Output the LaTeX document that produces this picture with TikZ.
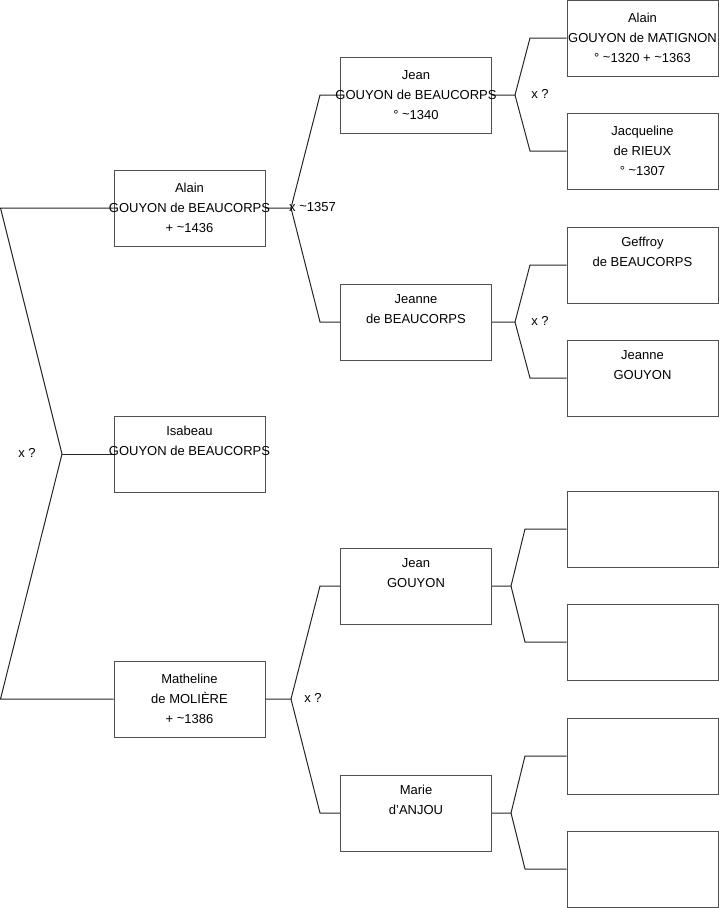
\documentclass[tikz,border=0pt]{standalone}
\usepackage{fontspec}
\setmainfont{Liberation Sans}
\definecolor{boxgray}{HTML}{505050}
\newcommand{\tl}{\raisebox{0.2ex}{\textasciitilde}}
\begin{document}
\begin{tikzpicture}[x=1pt,y=-1pt,
  person/.style={draw=boxgray,line width=1pt,fill=white,minimum width=151pt,minimum height=76pt,inner sep=0pt},
  txt/.style={inner sep=0pt,align=center,font=\fontsize{13pt}{20pt}\selectfont},
  link/.style={draw=black!85,line width=1pt},
  lbl/.style={inner sep=0pt,font=\fontsize{13pt}{20pt}\selectfont}]
\useasboundingbox (0,0) rectangle (719,908);
% junction coordinates
\coordinate (l0) at (0.5,208);
\coordinate (l1) at (0.5,699);
\coordinate (v0) at (62,454);
\coordinate (v1) at (291,208);
\coordinate (v1a) at (320,95);
\coordinate (v1b) at (320,322);
\coordinate (v2) at (291,699);
\coordinate (v2a) at (320,586);
\coordinate (v2b) at (320,813);
\coordinate (w1) at (515,95);
\coordinate (w1a) at (530,38);
\coordinate (w1b) at (530,151);
\coordinate (w2) at (515,322);
\coordinate (w2a) at (530,265);
\coordinate (w2b) at (530,378);
\coordinate (w3) at (511,586);
\coordinate (w3a) at (525,529);
\coordinate (w3b) at (525,642);
\coordinate (w4) at (511,813);
\coordinate (w4a) at (525,756);
\coordinate (w4b) at (525,869);
% boxes
\node[person] (A1) at (189.5,208) {};
\node[person] (Is) at (189.5,454) {};
\node[person] (Ma) at (189.5,699) {};
\node[person] (Je) at (416,95) {};
\node[person] (Jn) at (416,322) {};
\node[person] (Jg) at (416,586) {};
\node[person] (Mr) at (416,813) {};
\node[person] (G1) at (642.5,38) {};
\node[person] (G2) at (642.5,151) {};
\node[person] (G3) at (642.5,265) {};
\node[person] (G4) at (642.5,378) {};
\node[person] (G5) at (642.5,529) {};
\node[person] (G6) at (642.5,642) {};
\node[person] (G7) at (642.5,756) {};
\node[person] (G8) at (642.5,869) {};
% connectors
\draw[link] (A1.west) -- (l0) -- (v0) -- (l1) -- (Ma.west);
\draw[link] (v0) -- (Is.west);
\draw[link] (A1.east) -- (v1) -- (v1a) -- (Je.west);
\draw[link] (v1) -- (v1b) -- (Jn.west);
\draw[link] (Ma.east) -- (v2) -- (v2a) -- (Jg.west);
\draw[link] (v2) -- (v2b) -- (Mr.west);
\draw[link] (Je.east) -- (w1) -- (w1a) -- (G1.west);
\draw[link] (w1) -- (w1b) -- (G2.west);
\draw[link] (Jn.east) -- (w2) -- (w2a) -- (G3.west);
\draw[link] (w2) -- (w2b) -- (G4.west);
\draw[link] (Jg.east) -- (w3) -- (w3a) -- (G5.west);
\draw[link] (w3) -- (w3b) -- (G6.west);
\draw[link] (Mr.east) -- (w4) -- (w4a) -- (G7.west);
\draw[link] (w4) -- (w4b) -- (G8.west);
% texts
\node[txt] (tA1) at (A1) {Alain\\GOUYON de BEAUCORPS\\+ \tl1436};
\node[txt] (tIs) at (Is) {Isabeau\\GOUYON de BEAUCORPS\\\strut};
\node[txt] (tMa) at (Ma) {Matheline\\de MOLIÈRE\\+ \tl1386};
\node[txt] (tJe) at (Je) {Jean\\GOUYON de BEAUCORPS\\° \tl1340};
\node[txt] (tJn) at (Jn) {Jeanne\\de BEAUCORPS\\\strut};
\node[txt] (tJg) at (Jg) {Jean\\GOUYON\\\strut};
\node[txt] (tMr) at (Mr) {Marie\\d'ANJOU\\\strut};
\node[txt] (tG1) at (G1) {Alain\\GOUYON de MATIGNON\\° \tl1320 + \tl1363};
\node[txt] (tG2) at (G2) {Jacqueline\\de RIEUX\\° \tl1307};
\node[txt] (tG3) at (G3) {Geffroy\\de BEAUCORPS\\\strut};
\node[txt] (tG4) at (G4) {Jeanne\\GOUYON\\\strut};
% marriage labels
\node[lbl] (m0) at (27,453) {x ?};
\node[lbl,anchor=west] (m1) at (289,207) {x \tl1357};
\node[lbl] (m2) at (313,698) {x ?};
\node[lbl] (m3) at (540,94) {x ?};
\node[lbl] (m4) at (540,321) {x ?};
\end{tikzpicture}
\end{document}
